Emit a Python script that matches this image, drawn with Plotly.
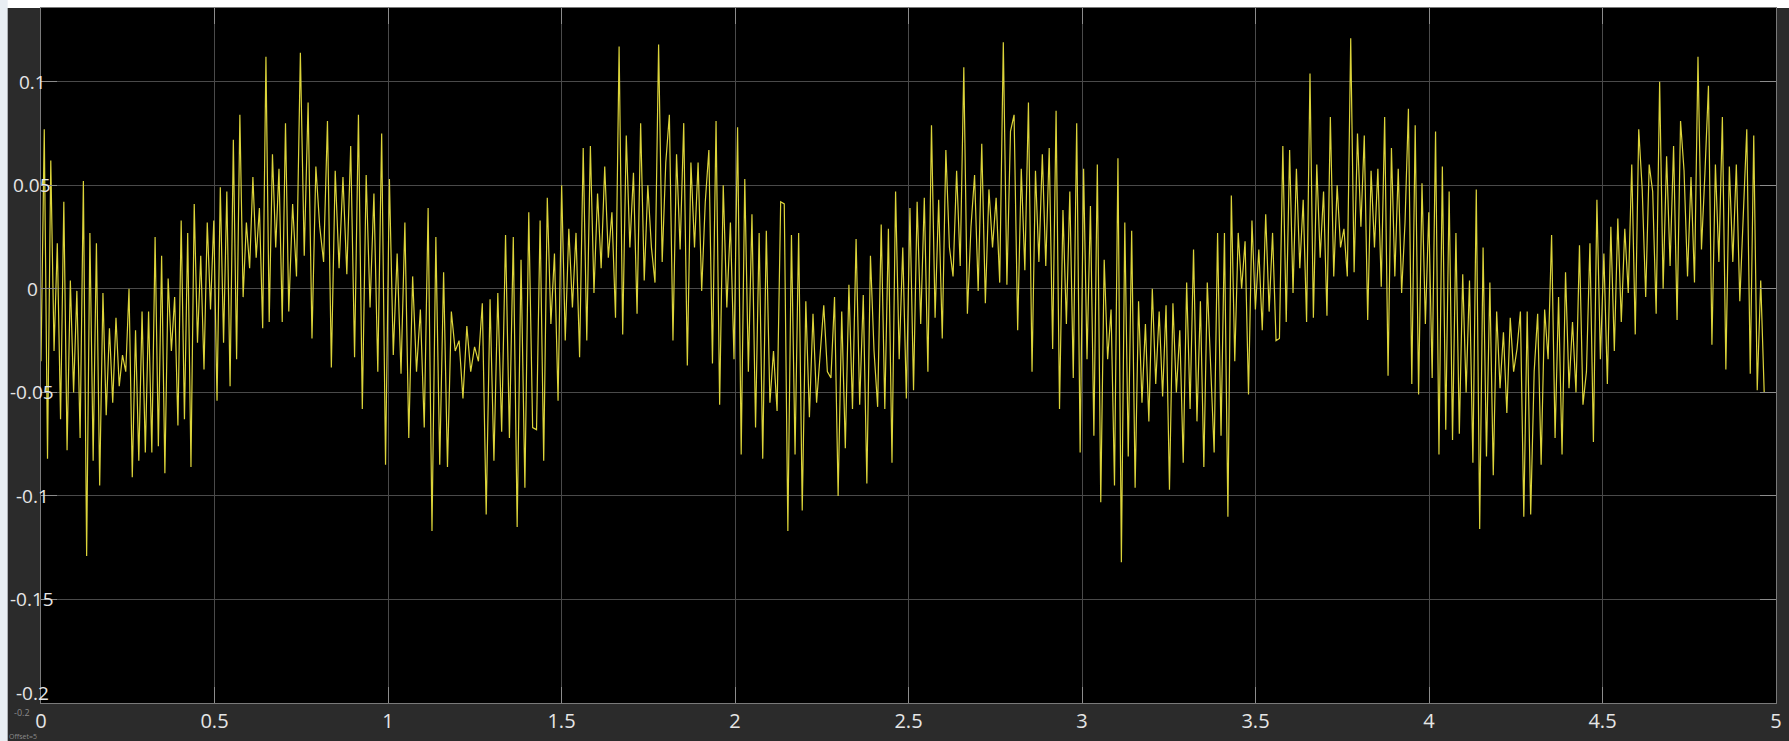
import numpy as np
import plotly.graph_objects as go

# Scope trace, read in seven consecutive time windows (seconds)
seg_bounds = [0.0, 0.714, 1.428, 2.142, 2.856, 3.569, 4.283, 4.966]

seg1 = [-0.035, 0.077, -0.082, 0.062, -0.030, 0.022, -0.063, 0.042, -0.078, 0.004, -0.050, -0.001,
        -0.072, 0.052, -0.129, 0.027, -0.083, 0.022, -0.095, -0.002, -0.061, -0.019, -0.055, -0.014,
        -0.047, -0.032, -0.040, 0.000, -0.091, -0.020, -0.083, -0.011, -0.079, -0.011, -0.079, 0.025,
        -0.076, 0.016, -0.089, 0.005, -0.030, -0.004, -0.066, 0.033, -0.063, 0.027, -0.086, 0.041,
        -0.026, 0.016, -0.039, 0.032, -0.010, 0.033, -0.054, 0.049, -0.026, 0.047, -0.047, 0.072,
        -0.034, 0.084, -0.004, 0.032, 0.010, 0.054, 0.015, 0.039, -0.019, 0.112, -0.016, 0.065,
        0.020, 0.058, -0.016, 0.080]
seg2 = [-0.011, 0.041, 0.006, 0.114, 0.016, 0.090, -0.024, 0.059, 0.030, 0.013, 0.081, -0.038,
        0.057, 0.010, 0.054, 0.007, 0.069, -0.033, 0.084, -0.058, 0.055, -0.009, 0.046, -0.040,
        0.075, -0.085, 0.053, -0.032, 0.017, -0.041, 0.032, -0.072, 0.006, -0.040, -0.010, -0.067,
        0.039, -0.117, 0.025, -0.085, 0.008, -0.086, -0.011, -0.030, -0.025, -0.053, -0.018, -0.040,
        -0.028, -0.035, -0.007, -0.109, -0.005, -0.083, -0.002, -0.069, 0.026, -0.072, 0.025, -0.115,
        0.014, -0.096, 0.037, -0.067]
seg3 = [-0.068, 0.033, -0.083, 0.044, -0.017, 0.017, -0.054, 0.050, -0.025, 0.029, -0.009, 0.027,
        -0.033, 0.068, -0.025, 0.069, -0.002, 0.046, 0.010, 0.059, 0.015, 0.037, -0.014, 0.117,
        -0.022, 0.074, 0.020, 0.056, -0.012, 0.080, 0.004, 0.050, 0.020, 0.003, 0.118, 0.013,
        0.061, 0.084, -0.025, 0.065, 0.019, 0.080, -0.037, 0.061, 0.020, 0.061, -0.001, 0.042,
        0.067, -0.036, 0.081, -0.056, 0.050, -0.009, 0.032, -0.034, 0.078, -0.080, 0.053, -0.040,
        0.036, -0.067, 0.027, -0.082, 0.028, -0.055, -0.030, -0.059, 0.042]
seg4 = [0.041, -0.117, 0.026, -0.080, 0.027, -0.107, -0.006, -0.062, -0.012, -0.055, -0.030, -0.008,
        -0.040, -0.043, -0.004, -0.100, -0.011, -0.077, 0.002, -0.058, 0.024, -0.056, -0.003, -0.094,
        0.016, -0.030, -0.057, 0.031, -0.058, 0.029, -0.084, 0.047, -0.034, 0.020, -0.053, 0.039,
        -0.049, 0.042, -0.017, 0.044, -0.040, 0.079, -0.014, 0.043, -0.024, 0.067, 0.020, 0.006,
        0.057, 0.011, 0.107, -0.012, 0.030, 0.055, -0.001, 0.070, -0.007, 0.048, 0.020, 0.044,
        0.003, 0.119, 0.002, 0.076, 0.084, -0.020, 0.058, 0.009, 0.090]
seg5 = [-0.040, 0.057, 0.013, 0.065, 0.011, 0.068, -0.029, 0.086, -0.058, 0.038, -0.017, 0.047,
        -0.043, 0.080, -0.079, 0.058, -0.034, 0.040, -0.071, 0.060, -0.103, 0.014, -0.034, -0.010,
        -0.095, 0.063, -0.132, 0.032, -0.081, 0.028, -0.096, -0.006, -0.055, -0.017, -0.064, 0.000,
        -0.046, -0.011, -0.052, -0.008, -0.097, -0.007, -0.050, -0.020, -0.084, 0.003, -0.058, 0.019,
        -0.064, -0.006, -0.086, 0.003, -0.040, -0.079, 0.027, -0.071, 0.027, -0.110, 0.045, -0.035,
        0.027, 0.000, 0.023, -0.051, 0.033, -0.010, 0.019, -0.020, 0.036, -0.011, 0.027, -0.025]
seg6 = [-0.024, 0.069, -0.016, 0.067, -0.002, 0.058, 0.010, 0.043, -0.016, 0.104, -0.014, 0.060,
        0.015, 0.047, -0.013, 0.083, 0.006, 0.050, 0.020, 0.029, 0.006, 0.121, 0.008, 0.075,
        0.030, 0.074, -0.015, 0.057, 0.020, 0.058, 0.001, 0.083, -0.042, 0.068, 0.006, 0.058,
        -0.002, 0.032, 0.087, -0.046, 0.079, -0.051, 0.051, -0.017, 0.037, -0.043, 0.076, -0.080,
        0.059, -0.068, 0.047, -0.073, 0.027, -0.070, 0.007, -0.050, 0.004, -0.084, 0.048, -0.116,
        0.020, -0.081, 0.003, -0.090, -0.011, -0.048, -0.021, -0.060, -0.014, -0.040, -0.029, -0.011,
        -0.110]
seg7 = [-0.011, -0.109, -0.040, -0.012, -0.085, -0.010, -0.034, 0.026, -0.072, -0.004, -0.080, 0.008,
        -0.048, -0.016, -0.050, 0.021, -0.056, -0.040, 0.022, -0.074, 0.043, -0.034, 0.017, -0.046,
        0.030, -0.030, 0.034, -0.016, 0.029, -0.002, 0.060, -0.022, 0.077, 0.048, -0.004, 0.060,
        0.047, -0.012, 0.100, 0.000, 0.064, 0.011, 0.069, -0.015, 0.081, 0.057, 0.006, 0.054,
        0.003, 0.112, 0.019, 0.056, 0.098, -0.027, 0.060, 0.013, 0.083, -0.039, 0.059, 0.013,
        0.060, -0.006, 0.032, 0.077, -0.041, 0.074, -0.049, 0.004, -0.050]

x_ticks = [0, 0.5, 1, 1.5, 2, 2.5, 3, 3.5, 4, 4.5, 5]
y_ticks = [0.1, 0.05, 0, -0.05, -0.1, -0.15, -0.2]
y_tick_text = ["0.1", "0.05", "0", "-0.05", "-0.1", "-0.15", "-0.2"]

segments = [seg1, seg2, seg3, seg4, seg5, seg6, seg7]
t_parts, y_parts = [], []
for i, seg in enumerate(segments):
    last = i == len(segments) - 1
    t_parts.append(np.linspace(seg_bounds[i], seg_bounds[i + 1], len(seg), endpoint=last))
    y_parts.append(np.array(seg))
t = np.concatenate(t_parts)
y = np.concatenate(y_parts)

fig = go.Figure()
fig.add_trace(go.Scatter(x=t, y=y, mode="lines",
                         line=dict(color="#dcd43a", width=1.2),
                         hoverinfo="skip", showlegend=False))

axis_common = dict(showgrid=True, gridcolor="#4a4a4a", gridwidth=1, zeroline=False,
                   showline=True, linecolor="#7a7a7a", linewidth=1, mirror="allticks",
                   ticks="inside", ticklen=16, tickcolor="#8c8c8c", tickwidth=1)

fig.update_xaxes(range=[0, 5], tickvals=x_ticks,
                 tickfont=dict(family="Open Sans", size=20, color="#e6e6e6"),
                 **axis_common)
fig.update_yaxes(range=[-0.2, 0.1356], tickvals=y_ticks, showticklabels=False,
                 **axis_common)

annotations = []
for v, txt in zip(y_ticks, y_tick_text):
    # the bottom label sits a little above its gridline
    lift = 10 if v == y_ticks[-1] else 0
    annotations.append(dict(x=0, xref="paper", y=v, yref="y", text=txt, showarrow=False,
                            xanchor="center", yanchor="middle", xshift=-9, yshift=lift,
                            font=dict(family="Open Sans", size=19, color="#e6e6e6")))
annotations.append(dict(x=0, xref="paper", y=0, yref="paper", text="-0.2", showarrow=False,
                        xanchor="center", yanchor="top", xshift=-19, yshift=-1,
                        font=dict(family="Open Sans", size=9, color="#8a8a8a")))
annotations.append(dict(x=0, xref="paper", y=0, yref="paper", text="Offset=5", showarrow=False,
                        xanchor="left", yanchor="top", xshift=-34, yshift=-27,
                        font=dict(family="Open Sans", size=7, color="#8a8a8a")))

shapes = [
    # light frame strips around the scope window
    dict(type="rect", xref="paper", yref="paper", x0=-0.03, x1=1.01, y0=1.0, y1=1.02,
         fillcolor="#ffffff", line=dict(width=0), layer="below"),
    dict(type="rect", xref="paper", yref="paper", x0=-0.03, x1=-0.0192, y0=-0.06, y1=1.02,
         fillcolor="#e9eef3", line=dict(width=0), layer="below"),
]

fig.update_layout(
    width=1789, height=741,
    margin=dict(l=41, r=9, t=7, b=36),
    paper_bgcolor="#2b2b2b",
    plot_bgcolor="#000000",
    annotations=annotations,
    shapes=shapes,
)

fig.write_html("out.html")
